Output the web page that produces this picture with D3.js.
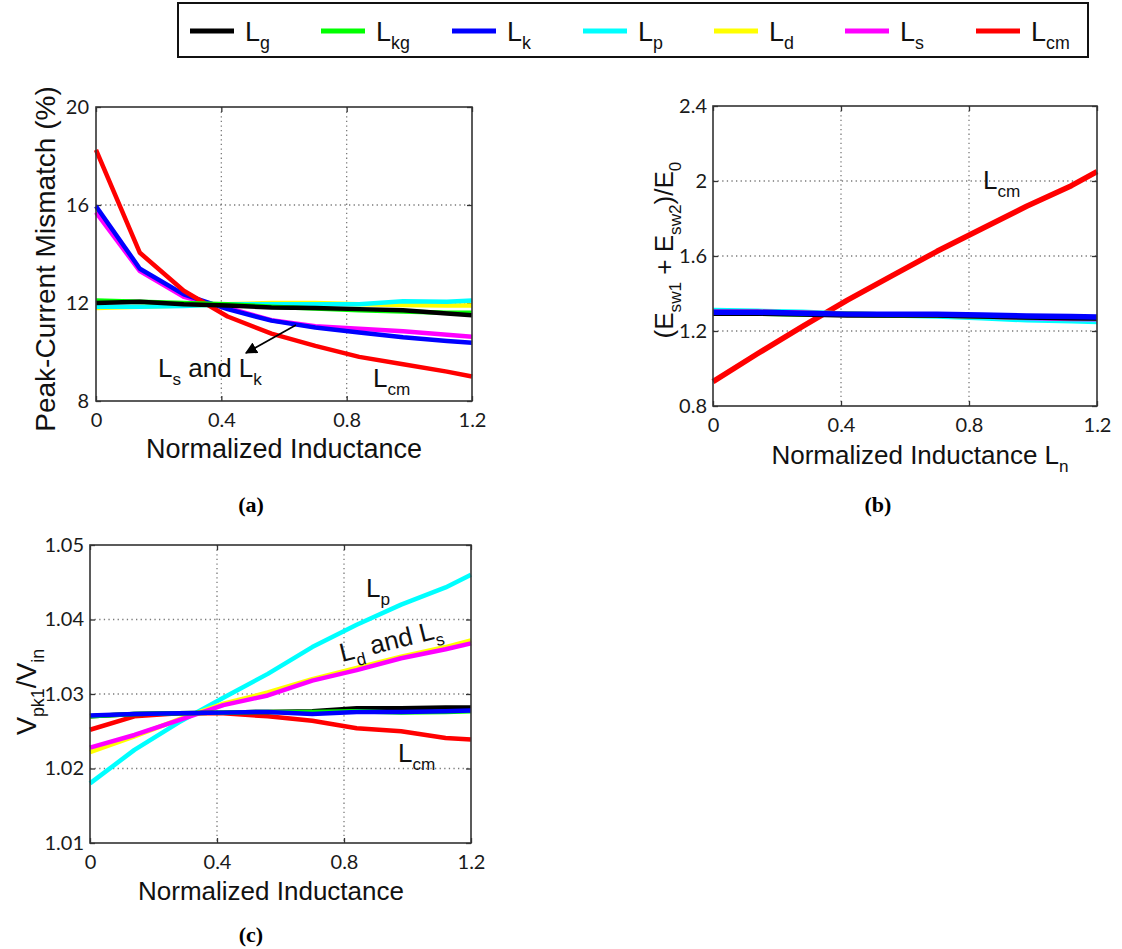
<!DOCTYPE html>
<html><head><meta charset="utf-8">
<script src="https://cdn.jsdelivr.net/npm/d3@7"></script>
<style>body{margin:0;background:#fff}</style>
</head><body><svg id="chart" width="1122" height="949"></svg>
<script>
// ---------- data ----------
const xValues = [0, 0.14, 0.28, 0.42, 0.56, 0.70, 0.84, 0.98, 1.12, 1.2];
const seriesNames = ["Lg", "Lkg", "Lk", "Lp", "Ld", "Ls", "Lcm"];
const seriesSubs = ["g", "kg", "k", "p", "d", "s", "cm"];
const seriesColors = ["#000000", "#00ff00", "#0000ff", "#00ffff", "#ffff00", "#ff00ff", "#ff0000"];
const xTickValues = [0, 0.4, 0.8, 1.2];
const mismatchTicks = [8, 12, 16, 20];
const energyTicks = [0.8, 1.2, 1.6, 2, 2.4];
const voltageTicks = [1.01, 1.02, 1.03, 1.04, 1.05];

// (a) Peak-current mismatch (%)
const mismatchLg  = [12.0, 12.05, 11.95, 11.9, 11.82, 11.8, 11.75, 11.7, 11.57, 11.5];
const mismatchLkg = [12.1, 12.05, 12.0, 11.95, 11.85, 11.78, 11.7, 11.65, 11.6, 11.6];
const mismatchLk  = [15.95, 13.4, 12.35, 11.75, 11.28, 11.0, 10.8, 10.6, 10.45, 10.38];
const mismatchLp  = [11.85, 11.85, 11.88, 11.95, 11.95, 11.95, 11.95, 12.07, 12.05, 12.1];
const mismatchLd  = [11.8, 11.85, 11.9, 11.95, 12.0, 12.0, 11.95, 11.92, 11.9, 11.9];
const mismatchLs  = [15.7, 13.3, 12.25, 11.8, 11.3, 11.05, 10.95, 10.85, 10.7, 10.62];
const mismatchLcm = [18.25, 14.05, 12.5, 11.45, 10.75, 10.25, 9.8, 9.5, 9.2, 9.0];

// (b) (Esw1 + Esw2)/E0
const energyLg  = [1.295, 1.295, 1.29, 1.285, 1.285, 1.285, 1.28, 1.275, 1.27, 1.27];
const energyLkg = [1.295, 1.295, 1.29, 1.29, 1.285, 1.285, 1.28, 1.275, 1.272, 1.27];
const energyLk  = [1.30, 1.30, 1.295, 1.29, 1.29, 1.29, 1.285, 1.28, 1.277, 1.275];
const energyLp  = [1.31, 1.305, 1.30, 1.29, 1.285, 1.28, 1.27, 1.26, 1.255, 1.25];
const energyLd  = [1.30, 1.30, 1.295, 1.29, 1.285, 1.285, 1.28, 1.275, 1.27, 1.268];
const energyLs  = [1.30, 1.30, 1.295, 1.29, 1.285, 1.285, 1.28, 1.272, 1.267, 1.265];
const energyLcm = [0.93, 1.08, 1.225, 1.365, 1.495, 1.625, 1.745, 1.865, 1.975, 2.05];

// (c) Vpk1/Vin
const voltageLg  = [1.0270, 1.0273, 1.0274, 1.0275, 1.0276, 1.0277, 1.0281, 1.0281, 1.0282, 1.0282];
const voltageLkg = [1.0270, 1.0273, 1.0274, 1.0275, 1.0276, 1.0276, 1.0277, 1.0275, 1.0276, 1.0277];
const voltageLk  = [1.0271, 1.0273, 1.0274, 1.0275, 1.0276, 1.0273, 1.0276, 1.0276, 1.0277, 1.0278];
const voltageLp  = [1.0180, 1.0225, 1.0262, 1.0295, 1.0327, 1.0363, 1.0393, 1.0420, 1.0443, 1.0460];
const voltageLd  = [1.0222, 1.0243, 1.0266, 1.0287, 1.0302, 1.0320, 1.0335, 1.0350, 1.0363, 1.0372];
const voltageLs  = [1.0228, 1.0245, 1.0265, 1.0285, 1.0298, 1.0318, 1.0332, 1.0348, 1.0360, 1.0368];
const voltageLcm = [1.0252, 1.0270, 1.0274, 1.0274, 1.0270, 1.0264, 1.0254, 1.0250, 1.0241, 1.0239];

// ---------- drawing ----------
const svg = d3.select("#chart");
const AX_FONT = "'Liberation Sans', Arial, sans-serif";
const TICK_FONT = "Lato, 'Open Sans', sans-serif";

function rich(textSel, parts, size) {
  let prevSub = false;
  parts.forEach(([t, sub]) => {
    const ts = textSel.append("tspan").text(t).attr("font-size", sub ? size * 0.66 : size);
    if (sub && !prevSub) ts.attr("dy", size * 0.3);
    if (!sub && prevSub) ts.attr("dy", -size * 0.3);
    prevSub = sub;
  });
  return textSel;
}

function drawPanel(p) {
  const x = d3.scaleLinear().domain([0, 1.2]).range([p.left, p.right]);
  const y = d3.scaleLinear().domain(p.yDomain).range([p.bottom, p.top]);
  const g = svg.append("g");
  const gridStyle = s => s.attr("stroke", "#7a7a7a").attr("stroke-width", 1.3).attr("stroke-dasharray", "1.3,3.3");

  g.append("g").selectAll("line").data(xTickValues.slice(1, -1)).join("line")
    .attr("x1", d => x(d)).attr("x2", d => x(d)).attr("y1", p.top).attr("y2", p.bottom).call(gridStyle);
  g.append("g").selectAll("line").data(p.yTicks.slice(1, -1)).join("line")
    .attr("y1", d => y(d)).attr("y2", d => y(d)).attr("x1", p.left).attr("x2", p.right).call(gridStyle);

  const styleAxis = a => {
    a.select(".domain").remove();
    a.selectAll(".tick line").attr("stroke", "#333").attr("stroke-width", 1.3);
    a.selectAll(".tick text").attr("font-family", TICK_FONT).attr("font-size", 20).attr("fill", "#1a1a1a");
  };
  g.append("g").attr("transform", `translate(0,${p.bottom})`)
    .call(d3.axisBottom(x).tickValues(xTickValues).tickSizeInner(-5).tickSizeOuter(0).tickPadding(p.xPad).tickFormat(d3.format("")))
    .call(styleAxis);
  g.append("g").attr("transform", `translate(0,${p.top})`)
    .call(d3.axisTop(x).tickValues(xTickValues).tickSizeInner(-5).tickSizeOuter(0).tickFormat(""))
    .call(styleAxis);
  g.append("g").attr("transform", `translate(${p.left},0)`)
    .call(d3.axisLeft(y).tickValues(p.yTicks).tickSizeInner(-5).tickSizeOuter(0).tickPadding(p.yPad).tickFormat(d3.format("")))
    .call(styleAxis);
  g.append("g").attr("transform", `translate(${p.right},0)`)
    .call(d3.axisRight(y).tickValues(p.yTicks).tickSizeInner(-5).tickSizeOuter(0).tickFormat(""))
    .call(styleAxis);

  const line = d3.line().x((d, i) => x(xValues[i])).y(d => y(d));
  p.order.forEach(idx => {
    g.append("path").datum(p.series[idx])
      .attr("d", line).attr("fill", "none")
      .attr("stroke", seriesColors[idx]).attr("stroke-width", p.lw)
      .attr("stroke-linejoin", "round").attr("stroke-linecap", "butt");
  });

  g.append("rect").attr("x", p.left).attr("y", p.top)
    .attr("width", p.right - p.left).attr("height", p.bottom - p.top)
    .attr("fill", "none").attr("stroke", "#333").attr("stroke-width", 1.6);

  const xt = g.append("text").attr("x", p.xTitle[0]).attr("y", p.xTitle[1])
    .attr("text-anchor", "middle").attr("font-family", AX_FONT).attr("fill", "#111");
  rich(xt, p.xTitleParts, p.xTitleSize);
  const yt = g.append("text").attr("transform", `translate(${p.yTitle[0]},${p.yTitle[1]}) rotate(-90)`)
    .attr("text-anchor", "middle").attr("font-family", AX_FONT).attr("fill", "#111");
  rich(yt, p.yTitleParts, p.yTitleSize);

  return { g, x, y };
}

// legend
const legend = svg.append("g");
legend.append("rect").attr("x", 178).attr("y", 3).attr("width", 910).attr("height", 54)
  .attr("fill", "#fff").attr("stroke", "#111").attr("stroke-width", 2);
seriesNames.forEach((n, i) => {
  const x0 = 190 + i * 131;
  legend.append("line").attr("x1", x0).attr("x2", x0 + 44).attr("y1", 31).attr("y2", 31)
    .attr("stroke", seriesColors[i]).attr("stroke-width", 5);
  const t = legend.append("text").attr("x", x0 + 55).attr("y", 41)
    .attr("font-family", AX_FONT).attr("fill", "#111");
  rich(t, [["L", false], [seriesSubs[i], true]], 27);
});

// (a)
drawPanel({
  left: 96, right: 472, top: 107, bottom: 401, yDomain: [8, 20], yTicks: mismatchTicks,
  xPad: 12, yPad: 7, lw: 4.5,
  series: [mismatchLg, mismatchLkg, mismatchLk, mismatchLp, mismatchLd, mismatchLs, mismatchLcm],
  order: [4, 3, 5, 2, 6, 1, 0],
  xTitle: [284, 458], xTitleParts: [["Normalized Inductance", false]], xTitleSize: 27,
  yTitle: [55, 259], yTitleParts: [["Peak-Current Mismatch (%)", false]], yTitleSize: 28
});
// (b)
drawPanel({
  left: 713, right: 1097, top: 106, bottom: 406, yDomain: [0.8, 2.4], yTicks: energyTicks,
  xPad: 12, yPad: 6, lw: 5.5,
  series: [energyLg, energyLkg, energyLk, energyLp, energyLd, energyLs, energyLcm],
  order: [6, 3, 4, 5, 1, 0, 2],
  xTitle: [920, 464], xTitleParts: [["Normalized Inductance L", false], ["n", true]], xTitleSize: 26,
  yTitle: [673, 250], yTitleParts: [["(E", false], ["sw1", true], [" + E", false], ["sw2", true], [")/E", false], ["0", true]], yTitleSize: 26
});
// (c)
drawPanel({
  left: 90, right: 471, top: 545, bottom: 843, yDomain: [1.01, 1.05], yTicks: voltageTicks,
  xPad: 12, yPad: 6, lw: 4.5,
  series: [voltageLg, voltageLkg, voltageLk, voltageLp, voltageLd, voltageLs, voltageLcm],
  order: [6, 3, 4, 5, 0, 1, 2],
  xTitle: [271, 900], xTitleParts: [["Normalized Inductance", false]], xTitleSize: 26,
  yTitle: [36, 692], yTitleParts: [["V", false], ["pk1", true], ["/V", false], ["in", true]], yTitleSize: 27
});

// annotations
function note(x, y, parts, size, rot) {
  const t = svg.append("text").attr("font-family", AX_FONT).attr("fill", "#111")
    .attr("transform", `translate(${x},${y})` + (rot ? ` rotate(${rot})` : ""));
  rich(t, parts, size);
}
svg.append("defs").append("marker").attr("id", "arr").attr("viewBox", "0 0 10 10")
  .attr("refX", 9).attr("refY", 5).attr("markerWidth", 12).attr("markerHeight", 12)
  .attr("markerUnits", "userSpaceOnUse").attr("orient", "auto")
  .append("path").attr("d", "M0,0 L10,5 L0,10 z").attr("fill", "#000");
svg.append("line").attr("x1", 296).attr("y1", 325).attr("x2", 246).attr("y2", 353)
  .attr("stroke", "#000").attr("stroke-width", 1.6).attr("marker-end", "url(#arr)");
note(158, 377, [["L", false], ["s", true], [" and L", false], ["k", true]], 26);
note(373, 387, [["L", false], ["cm", true]], 26);
note(983, 189, [["L", false], ["cm", true]], 26);
note(366, 597, [["L", false], ["p", true]], 26);
note(342, 662, [["L", false], ["d", true], [" and L", false], ["s", true]], 26, -14);
note(398, 762, [["L", false], ["cm", true]], 26);

// panel captions
[["(a)", 251, 512], ["(b)", 878, 512], ["(c)", 251, 942]].forEach(([t, x, y]) => {
  svg.append("text").attr("x", x).attr("y", y).attr("text-anchor", "middle")
    .attr("font-family", "'Liberation Serif', 'Times New Roman', serif").attr("font-weight", "bold")
    .attr("font-size", 22).attr("fill", "#000").text(t);
});
</script>
</body></html>
